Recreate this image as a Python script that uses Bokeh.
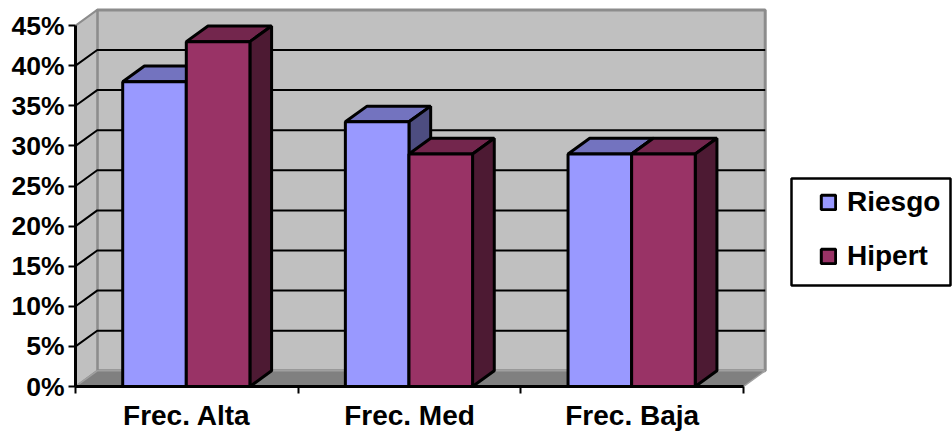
from bokeh.embed import file_html
from bokeh.models import BoxAnnotation, FixedTicker, Legend, LegendItem, LinearAxis, Range1d
from bokeh.plotting import figure
from bokeh.resources import INLINE

categories = ["Frec. Alta", "Frec. Med", "Frec. Baja"]
riesgo = [38, 33, 29]
hipert = [43, 29, 29]
y_ticks = [0, 5, 10, 15, 20, 25, 30, 35, 40, 45]
y_labels = ["0%", "5%", "10%", "15%", "20%", "25%", "30%", "35%", "40%", "45%"]

FONT = "Liberation Sans"
FRAME_W, FRAME_H = 877, 386
PX_PER_CAT = 222.67
PX_PER_PCT = 8.02
DX = 21.7 / PX_PER_CAT
DY = 15.7 / PX_PER_PCT
GAP = 47.2 / PX_PER_CAT
BAR_W = 63.6 / PX_PER_CAT
N = len(categories)
Y_MAX = y_ticks[-1]

p = figure(
    width=952, height=431,
    frame_width=FRAME_W, frame_height=FRAME_H,
    x_range=Range1d(0, FRAME_W / PX_PER_CAT),
    y_range=Range1d(0, FRAME_H / PX_PER_PCT),
    x_axis_type=None, y_axis_type=None,
    output_backend="svg", toolbar_location=None,
    min_border_left=75, min_border_right=0, min_border_top=0, min_border_bottom=45,
    outline_line_color=None, background_fill_color="white", border_fill_color="white",
)
p.grid.visible = False

# Chart walls and floor
p.patch([DX, N + DX, N + DX, DX], [DY, DY, Y_MAX + DY, Y_MAX + DY],
        fill_color="#C0C0C0", line_color="#8C8C8C", line_width=3)
p.patch([0, DX, DX, 0], [0, DY, Y_MAX + DY, Y_MAX],
        fill_color="#C0C0C0", line_color="#8C8C8C", line_width=2)
p.patch([0, DX, N + DX, N], [0, DY, DY, 0],
        fill_color="#808080", line_color="#A0A0A0", line_width=1.5)

# Grid lines run along the left wall and then across the back wall
inner = y_ticks[1:-1]
p.multi_line([[0, DX, N + DX] for _ in inner],
             [[v, v + DY, v + DY] for v in inner],
             line_color="black", line_width=2)


def draw_bars(values, offset, front, top, side):
    xs0 = [i + GAP + offset * BAR_W for i in range(N)]
    xs1 = [x + BAR_W for x in xs0]
    p.patches([[a, a + DX, b + DX, b] for a, b in zip(xs0, xs1)],
              [[v, v + DY, v + DY, v] for v in values],
              fill_color=top, line_color="black", line_width=3)
    p.patches([[b, b + DX, b + DX, b] for b in xs1],
              [[0, DY, v + DY, v] for v in values],
              fill_color=side, line_color="black", line_width=3)
    return p.quad(left=xs0, right=xs1, bottom=[0] * N, top=values,
                  fill_color=front, line_color="black", line_width=3)


r_riesgo = draw_bars(riesgo, 0, "#9999FF", "#7373BF", "#4D4D80")
r_hipert = draw_bars(hipert, 1, "#993366", "#73264D", "#4D1A33")

# Value axis
y_axis = LinearAxis(
    ticker=FixedTicker(ticks=y_ticks),
    major_label_overrides=dict(zip(y_ticks, y_labels)),
    bounds=(0, Y_MAX),
    axis_line_color="black", axis_line_width=3,
    major_tick_line_color="black", major_tick_line_width=2,
    major_tick_in=0, major_tick_out=7,
    minor_tick_line_color=None,
    major_label_standoff=4,
    major_label_text_font=FONT, major_label_text_font_style="bold",
    major_label_text_font_size="26.5px", major_label_text_color="black",
)
p.add_layout(y_axis, "left")

# Category axis: ticks fall between categories, labels sit at their centres
centres = [i + 0.5 for i in range(N)]
x_axis = LinearAxis(
    ticker=FixedTicker(ticks=centres, minor_ticks=list(range(N + 1))),
    major_label_overrides=dict(zip(centres, categories)),
    bounds=(0, N),
    axis_line_color="black", axis_line_width=3,
    major_tick_line_color=None,
    minor_tick_line_color="black", minor_tick_line_width=2,
    minor_tick_in=0, minor_tick_out=7,
    major_tick_in=0, major_tick_out=7,
    major_label_standoff=6,
    major_label_text_font=FONT, major_label_text_font_style="bold",
    major_label_text_font_size="28px", major_label_text_color="black",
)
p.add_layout(x_axis, "below")

# Legend frame and entries
p.add_layout(BoxAnnotation(
    left=791, right=950, top=178, bottom=285,
    left_units="canvas", right_units="canvas", top_units="canvas", bottom_units="canvas",
    fill_color="white", fill_alpha=1, line_color="black", line_alpha=1, line_width=2.5,
))
legend = Legend(
    items=[LegendItem(label="Riesgo", renderers=[r_riesgo]),
           LegendItem(label="Hipert", renderers=[r_hipert])],
    location=(744, 114),
    padding=10, margin=0, spacing=22,
    glyph_width=18, glyph_height=18, label_standoff=10, label_height=18,
    border_line_color=None, background_fill_alpha=0,
    label_text_font=FONT, label_text_font_style="bold",
    label_text_font_size="28px", label_text_color="black",
)
p.add_layout(legend, "center")

open("out.html", "w").write(file_html(p, INLINE))
